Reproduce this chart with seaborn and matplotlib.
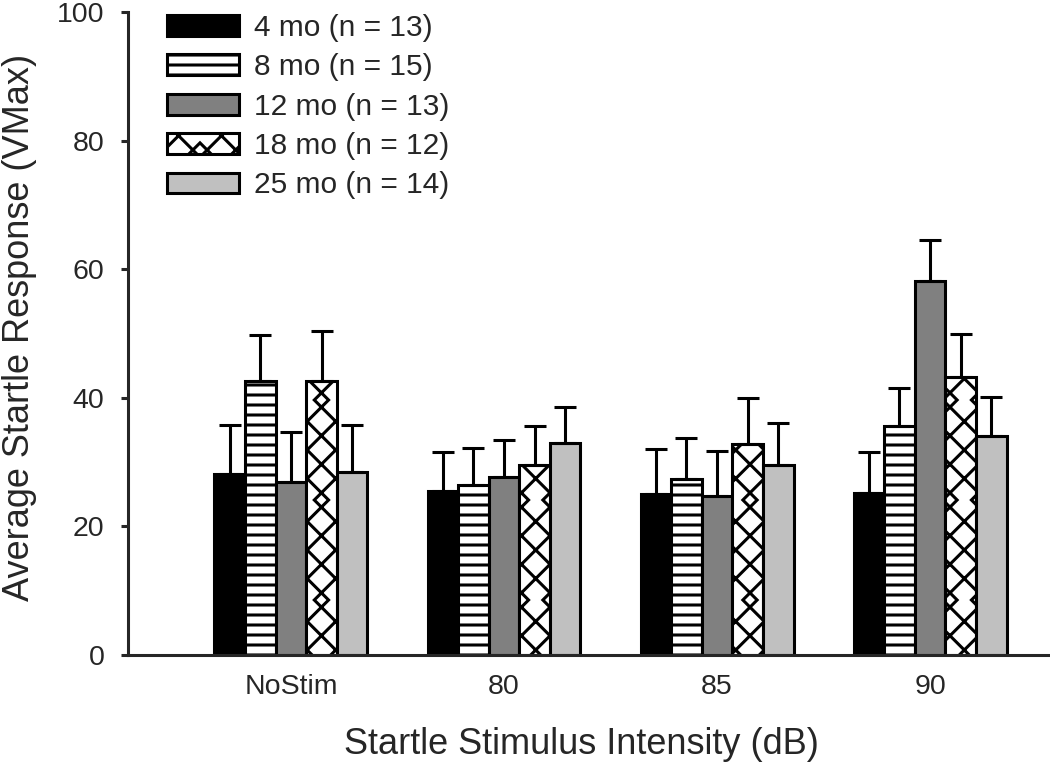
import numpy as np
import pandas as pd
import matplotlib
matplotlib.use("Agg")
import matplotlib.pyplot as plt
import seaborn as sns
from matplotlib.backend_bases import GraphicsContextBase

# ---- data ----
categories = ["NoStim", "80", "85", "90"]
groups = ["4 mo (n = 13)", "8 mo (n = 15)", "12 mo (n = 13)", "18 mo (n = 12)", "25 mo (n = 14)"]
mean_4mo = [28.2, 25.5, 25.0, 25.2]
mean_8mo = [42.6, 26.5, 27.3, 35.6]
mean_12mo = [26.9, 27.7, 24.8, 58.1]
mean_18mo = [42.6, 29.5, 32.8, 43.2]
mean_25mo = [28.5, 33.0, 29.5, 34.0]
sem_4mo = [7.6, 6.1, 7.0, 6.4]
sem_8mo = [7.2, 5.7, 6.5, 5.9]
sem_12mo = [7.8, 5.7, 7.0, 6.4]
sem_18mo = [7.8, 6.1, 7.2, 6.7]
sem_25mo = [7.3, 5.5, 6.6, 6.2]
yticks = [0, 20, 40, 60, 80, 100]

means = [mean_4mo, mean_8mo, mean_12mo, mean_18mo, mean_25mo]
sems = [sem_4mo, sem_8mo, sem_12mo, sem_18mo, sem_25mo]
colors = ["#000000", "#ffffff", "#808080", "#ffffff", "#c0c0c0"]
hatches = [None, "--", None, "x", None]

# hatch pattern scale matched to the reference
_orig_hp = GraphicsContextBase.get_hatch_path
def _hatch_path(self, density=6.0):
    h = self.get_hatch() or ""
    return _orig_hp(self, density=7.5 if "x" in h else 5.5)
GraphicsContextBase.get_hatch_path = _hatch_path

rows = []
for g, m in zip(groups, means):
    for c, v in zip(categories, m):
        rows.append({"Intensity": c, "Group": g, "Response": v})
df = pd.DataFrame(rows)

sns.set_style("ticks")
plt.rcParams["font.family"] = ["Liberation Sans", "DejaVu Sans"]
plt.rcParams["hatch.linewidth"] = 2.2
plt.rcParams["hatch.color"] = "black"

fig = plt.figure(figsize=(10.5, 7.65), dpi=100)
ax = fig.add_axes([0.1219, 0.1438, 0.8781, 0.8405])

sns.barplot(data=df, x="Intensity", y="Response", hue="Group",
            order=categories, hue_order=groups, palette=colors,
            width=0.718, gap=0, edgecolor="black", linewidth=2.2,
            errorbar=None, legend=False, ax=ax, saturation=1)

bar_containers = list(ax.containers)
for cont, h, s in zip(bar_containers, hatches, sems):
    xs = []
    ys = []
    for p in cont.patches:
        if h:
            p.set_hatch(h)
        p.set_edgecolor("black")
        xs.append(p.get_x() + p.get_width() / 2)
        ys.append(p.get_height())
    ax.errorbar(xs, ys, yerr=[np.zeros(len(s)), s], fmt="none", ecolor="black",
                elinewidth=2.2, capsize=8, capthick=2.2, zorder=1)

handles = [c.patches[0] for c in bar_containers]
leg = ax.legend(handles, groups, loc="upper left", bbox_to_anchor=(0.0423, 0.997),
                frameon=False, fontsize=21.5, handlelength=2.4, handleheight=0.69,
                labelspacing=0.38, handletextpad=0.5, borderaxespad=0, borderpad=0)

ax.set_xlim(-0.765, 3.563)
ax.set_ylim(0, 100)
ax.set_yticks(yticks)
ax.tick_params(axis="y", labelsize=20.5, length=5, width=2.2, pad=12)
ax.tick_params(axis="x", labelsize=20.5, length=0, pad=14)
ax.set_xlabel("Startle Stimulus Intensity (dB)", fontsize=26, labelpad=19)
ax.set_ylabel("Average Startle Response (VMax)", fontsize=26, labelpad=14)
ax.xaxis.label.set_x(0.492)
ax.yaxis.label.set_y(0.51)
sns.despine(ax=ax)
ax.spines["left"].set_linewidth(2.2)
ax.spines["bottom"].set_linewidth(2.2)

fig.savefig("out.png", dpi=100)
